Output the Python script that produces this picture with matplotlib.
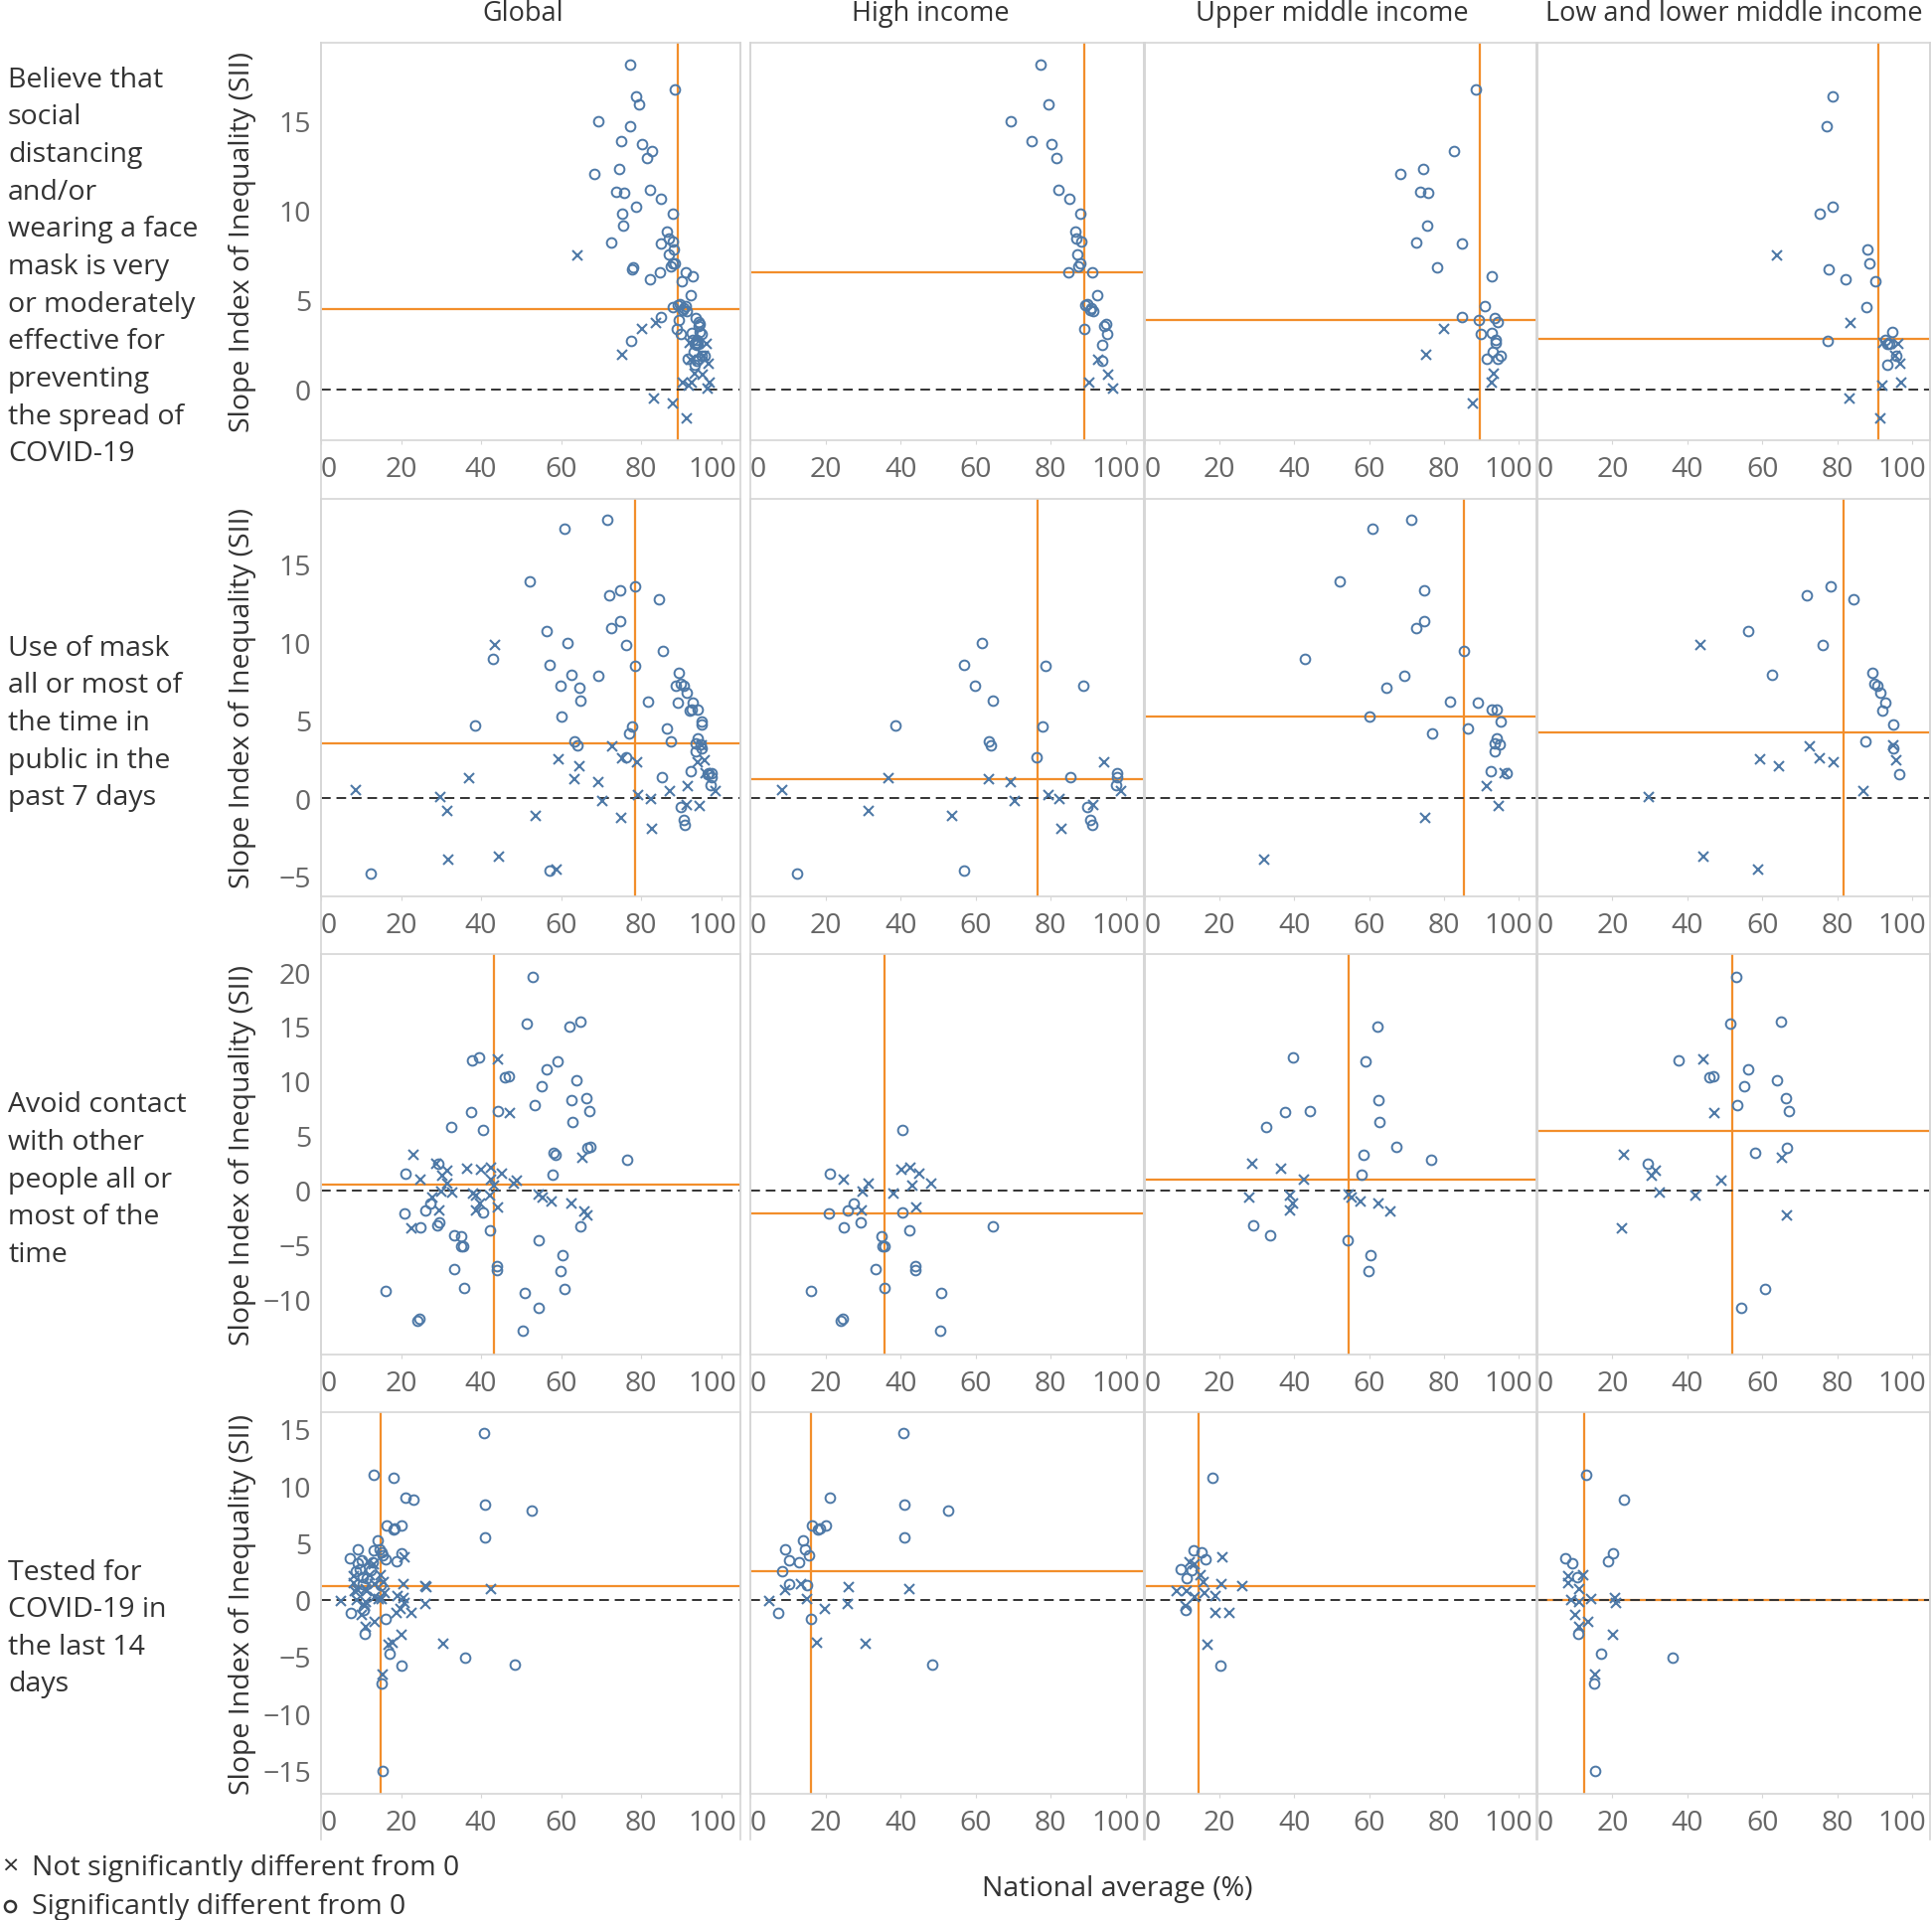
import matplotlib
matplotlib.use("Agg")
import matplotlib.pyplot as plt
import matplotlib.transforms as mtransforms
from matplotlib.lines import Line2D

plt.rcParams['font.family'] = ['Open Sans', 'DejaVu Sans']

col_labels = ["Global", "High income", "Upper middle income", "Low and lower middle income"]
row_labels = [
    "Believe that\nsocial\ndistancing\nand/or\nwearing a face\nmask is very\nor moderately\neffective for\npreventing\nthe spread of\nCOVID-19",
    "Use of mask\nall or most of\nthe time in\npublic in the\npast 7 days",
    "Avoid contact\nwith other\npeople all or\nmost of the\ntime",
    "Tested for\nCOVID-19 in\nthe last 14\ndays",
]

# (national average %, SII, significant 1/0)
social_high = [(77.2, 18.13, 1), (79.4, 15.9, 1), (69.3, 14.93, 1), (75.0, 13.83, 1), (80.3, 13.7, 1),
               (81.4, 12.88, 1), (82.1, 11.13, 1), (84.9, 10.61, 1), (87.8, 9.80, 1), (86.5, 8.78, 1),
               (86.8, 8.39, 1), (88.0, 8.26, 1), (87.0, 7.54, 1), (87.8, 7.04, 1), (87.4, 6.84, 1),
               (84.6, 6.51, 1), (91.1, 6.51, 1), (92.3, 5.25, 1), (89.1, 4.71, 1), (89.6, 4.77, 1),
               (90.5, 4.44, 1), (91.4, 4.34, 1), (90.7, 4.53, 1), (94.3, 3.51, 1), (94.7, 3.62, 1),
               (95.1, 3.11, 1), (89.0, 3.35, 1), (93.8, 2.46, 1), (93.8, 1.59, 1),
               (92.5, 1.66, 0), (95.3, 0.81, 0), (90.3, 0.37, 0), (96.6, 0.06, 0)]
social_umi = [(88.5, 16.73, 1), (82.7, 13.31, 1), (74.5, 12.29, 1), (68.3, 12.03, 1), (73.8, 11.0, 1),
              (75.7, 10.94, 1), (75.6, 9.15, 1), (72.6, 8.19, 1), (84.9, 8.11, 1), (78.1, 6.78, 1),
              (92.8, 6.32, 1), (91.1, 4.66, 1), (84.9, 4.01, 1), (89.5, 3.88, 1), (93.6, 3.97, 1),
              (94.4, 3.75, 1), (90.0, 3.11, 1), (92.7, 3.14, 1), (93.8, 2.77, 1), (93.8, 2.59, 1),
              (93.1, 2.09, 1), (95.1, 1.89, 1), (91.6, 1.70, 1), (94.3, 1.72, 1),
              (80.1, 3.35, 0), (75.3, 1.90, 0), (93.4, 0.85, 0), (92.7, 0.37, 0), (87.8, -0.81, 0)]
social_lmi = [(78.7, 16.34, 1), (77.2, 14.66, 1), (75.3, 9.80, 1), (78.7, 10.17, 1), (88.2, 7.80, 1),
              (88.5, 7.02, 1), (77.7, 6.71, 1), (82.3, 6.14, 1), (90.2, 6.01, 1), (87.8, 4.58, 1),
              (94.6, 3.18, 1), (77.4, 2.68, 1), (92.9, 2.74, 1), (94.0, 2.55, 1), (93.3, 2.51, 1),
              (95.9, 1.85, 1), (93.3, 1.39, 1),
              (64.0, 7.49, 0), (83.6, 3.70, 0), (92.2, 2.59, 0), (96.4, 2.55, 0), (95.5, 1.85, 0),
              (96.8, 1.44, 0), (97.0, 0.37, 0), (92.0, 0.18, 0), (83.2, -0.52, 0), (91.5, -1.63, 0)]

mask_high = [(61.6, 9.95, 1), (57.0, 8.54, 1), (78.5, 8.48, 1), (59.8, 7.21, 1), (88.6, 7.21, 1),
             (64.7, 6.25, 1), (38.6, 4.63, 1), (77.8, 4.57, 1), (63.4, 3.61, 1), (64.1, 3.40, 1),
             (76.3, 2.64, 1), (85.2, 1.32, 1), (97.6, 1.59, 1), (97.6, 1.34, 1), (97.4, 0.81, 1),
             (89.8, -0.60, 1), (90.6, -1.38, 1), (91.0, -1.70, 1), (12.5, -4.87, 1), (57.0, -4.65, 1),
             (8.6, 0.51, 0), (36.9, 1.28, 0), (63.4, 1.19, 0), (69.3, 1.02, 0), (94.1, 2.30, 0),
             (98.7, 0.45, 0), (79.3, 0.17, 0), (82.4, -0.09, 0), (70.3, -0.17, 0), (91.3, -0.47, 0),
             (31.6, -0.81, 0), (53.6, -1.17, 0), (82.8, -2.00, 0)]
mask_umi = [(71.4, 17.85, 1), (60.9, 17.26, 1), (52.1, 13.92, 1), (74.8, 13.33, 1), (74.8, 11.35, 1),
            (72.6, 10.90, 1), (85.4, 9.41, 1), (42.9, 8.91, 1), (69.3, 7.86, 1), (64.6, 7.08, 1),
            (81.6, 6.18, 1), (89.1, 6.12, 1), (92.7, 5.67, 1), (94.1, 5.67, 1), (95.2, 4.93, 1),
            (60.0, 5.23, 1), (77.0, 4.12, 1), (86.5, 4.48, 1), (94.1, 3.83, 1), (93.7, 3.53, 1),
            (94.9, 3.44, 1), (93.7, 3.00, 1), (92.5, 1.70, 1), (96.9, 1.59, 1),
            (96.2, 1.59, 0), (91.6, 0.79, 0), (94.6, -0.51, 0), (75.0, -1.25, 0), (31.9, -3.93, 0)]
mask_lmi = [(78.4, 13.58, 1), (71.9, 12.99, 1), (84.5, 12.75, 1), (56.3, 10.69, 1), (76.2, 9.80, 1),
            (62.7, 7.89, 1), (89.3, 8.01, 1), (89.9, 7.33, 1), (90.7, 7.18, 1), (91.5, 6.76, 1),
            (92.8, 6.12, 1), (92.1, 5.59, 1), (95.1, 4.72, 1), (87.5, 3.61, 1), (95.1, 3.19, 1),
            (96.5, 1.55, 1),
            (43.4, 9.80, 0), (72.8, 3.29, 0), (75.3, 2.57, 0), (59.4, 2.51, 0), (79.0, 2.27, 0),
            (64.6, 2.04, 0), (95.1, 3.40, 0), (95.8, 2.44, 0), (87.1, 0.45, 0), (29.7, 0.09, 0),
            (44.4, -3.76, 0), (58.8, -4.57, 0)]

contact_high = [(40.4, 5.55, 1), (21.1, 1.55, 1), (20.8, -2.12, 1), (26.0, -1.88, 1), (27.4, -1.24, 1),
                (40.4, -2.03, 1), (24.8, -3.37, 1), (29.5, -2.94, 1), (42.3, -3.70, 1), (64.7, -3.28, 1),
                (35.0, -4.25, 1), (35.1, -5.16, 1), (35.6, -5.10, 1), (33.4, -7.19, 1), (43.9, -6.98, 1),
                (43.9, -7.28, 1), (35.8, -8.98, 1), (50.8, -9.38, 1), (16.2, -9.26, 1), (24.5, -11.78, 1),
                (24.0, -11.99, 1), (50.5, -12.90, 1),
                (24.9, 0.97, 0), (31.5, 0.58, 0), (30.0, -0.09, 0), (40.1, 1.85, 0), (42.5, 2.03, 0),
                (45.1, 1.49, 0), (43.1, 0.46, 0), (48.2, 0.64, 0), (38.0, -0.27, 0), (44.1, -1.55, 0),
                (29.6, -1.82, 0)]
contact_umi = [(62.2, 14.96, 1), (39.5, 12.20, 1), (59.1, 11.78, 1), (62.5, 8.29, 1), (62.8, 6.28, 1),
               (37.4, 7.13, 1), (44.1, 7.22, 1), (32.5, 5.77, 1), (67.4, 3.98, 1), (58.5, 3.25, 1),
               (76.6, 2.82, 1), (57.9, 1.46, 1), (29.1, -3.19, 1), (33.4, -4.13, 1), (54.3, -4.58, 1),
               (60.4, -5.92, 1), (59.8, -7.37, 1),
               (28.8, 2.40, 0), (36.5, 1.97, 0), (42.5, 0.94, 0), (27.8, -0.64, 0), (38.8, -0.46, 0),
               (39.7, -1.21, 0), (38.8, -1.82, 0), (54.5, -0.36, 0), (55.4, -0.70, 0), (57.6, -1.06, 0),
               (62.5, -1.18, 0), (65.8, -1.91, 0)]
contact_lmi = [(53.0, 19.58, 1), (51.5, 15.27, 1), (64.9, 15.45, 1), (37.7, 11.90, 1), (56.3, 11.05, 1),
               (46.0, 10.32, 1), (46.9, 10.41, 1), (63.9, 10.08, 1), (55.1, 9.56, 1), (66.2, 8.41, 1),
               (67.1, 7.22, 1), (53.3, 7.77, 1), (58.1, 3.46, 1), (66.5, 3.88, 1), (29.4, 2.40, 1),
               (60.8, -9.07, 1), (54.5, -10.77, 1),
               (44.3, 11.99, 0), (47.1, 7.04, 0), (23.1, 3.28, 0), (31.5, 1.82, 0), (30.4, 1.30, 0),
               (32.7, -0.24, 0), (49.0, 0.85, 0), (42.1, -0.52, 0), (65.4, 3.00, 0), (66.5, -2.34, 0),
               (22.5, -3.49, 0)]

tested_high = [(40.7, 14.61, 1), (21.1, 8.96, 1), (41.0, 8.35, 1), (52.7, 7.86, 1), (16.3, 6.49, 1),
               (18.1, 6.14, 1), (18.5, 6.26, 1), (20.1, 6.55, 1), (41.0, 5.44, 1), (14.1, 5.21, 1),
               (9.2, 4.42, 1), (14.6, 4.39, 1), (15.5, 3.87, 1), (10.2, 3.49, 1), (13.0, 3.29, 1),
               (8.6, 2.50, 1), (10.4, 1.40, 1), (15.0, 1.31, 1), (7.4, -1.13, 1), (16.2, -1.66, 1),
               (48.4, -5.67, 1),
               (9.2, 0.87, 0), (13.4, 1.40, 0), (26.3, 1.08, 0), (42.4, 0.96, 0), (4.9, -0.12, 0),
               (15.2, 0.09, 0), (26.0, -0.35, 0), (19.8, -0.81, 0), (17.8, -3.78, 0), (30.6, -3.84, 0)]
tested_umi = [(18.1, 10.68, 1), (13.1, 4.31, 1), (15.2, 4.13, 1), (16.2, 3.58, 1), (9.7, 2.71, 1),
              (12.4, 2.62, 1), (11.3, 1.89, 1), (10.8, -0.93, 1), (20.2, -5.79, 1),
              (20.8, 3.70, 0), (11.9, 3.29, 0), (13.2, 3.14, 0), (14.8, 2.12, 0), (15.7, 1.54, 0),
              (20.5, 1.34, 0), (26.1, 1.16, 0), (8.4, 0.73, 0), (11.3, 0.76, 0), (15.9, 0.58, 0),
              (13.4, 0.23, 0), (19.0, 0.29, 0), (11.0, -0.58, 0), (18.9, -1.16, 0), (22.6, -1.16, 0),
              (16.8, -3.99, 0)]
tested_lmi = [(13.1, 10.97, 1), (23.1, 8.76, 1), (20.1, 4.10, 1), (18.9, 3.40, 1), (7.3, 3.61, 1),
              (9.2, 3.20, 1), (10.5, 1.98, 1), (10.9, -3.00, 1), (17.1, -4.77, 1), (36.0, -5.06, 1),
              (15.2, -7.33, 1), (15.5, -15.07, 1),
              (8.1, 2.07, 0), (8.1, 1.45, 0), (12.1, 2.12, 0), (11.2, 0.96, 0), (8.9, 0.0, 0),
              (11.2, -0.20, 0), (14.3, 0.03, 0), (20.7, 0.15, 0), (20.9, -0.29, 0), (10.1, -1.37, 0),
              (13.4, -1.98, 0), (11.2, -2.39, 0), (20.1, -3.08, 0), (15.4, -6.60, 0)]

# reference lines (averages) per row: Global, High, UMI, LMI
ref_x = [[89.2, 89.0, 89.6, 90.9], [78.4, 76.4, 85.4, 81.8], [43.2, 35.6, 54.5, 52.1], [14.8, 16.2, 14.4, 12.5]]
ref_y = [[4.47, 6.51, 3.88, 2.79], [3.48, 1.19, 5.23, 4.21], [0.56, -2.12, 0.94, 5.43], [1.19, 2.50, 1.16, 0.0]]

y_limits = [(-2.85, 19.33), (-6.31, 19.19), (-15.05, 21.64), (-17.05, 16.47)]
y_ticks = [[0, 5, 10, 15], [-5, 0, 5, 10, 15], [-10, -5, 0, 5, 10, 15, 20], [-15, -10, -5, 0, 5, 10, 15]]
x_ticks = [0, 20, 40, 60, 80, 100]

rows = [[social_high, social_umi, social_lmi],
        [mask_high, mask_umi, mask_lmi],
        [contact_high, contact_umi, contact_lmi],
        [tested_high, tested_umi, tested_lmi]]

W, H = 1944, 1933
fig = plt.figure(figsize=(W / 100, H / 100), dpi=100)

col_px = [(323, 745), (755, 1151), (1152, 1546), (1547, 1942)]
row_px = [(44, 444), (503, 903), (961, 1364), (1422, 1806)]

blue = '#4e79a7'
orange = '#f28e2b'
border = '#d6d6d6'
tick_col = '#666666'
text_col = '#333333'
fs = 20.5


def px_rect(l, r, t, b):
    return [l / W, 1 - b / H, (r - l) / W, (b - t) / H]


for i, groups in enumerate(rows):
    panels = [groups[0] + groups[1] + groups[2]] + groups
    t, b = row_px[i]
    for j, pts in enumerate(panels):
        l, r = col_px[j]
        ax = fig.add_axes(px_rect(l, r, t, b))
        ax.set_xlim(0, 104.8)
        ax.set_ylim(*y_limits[i])
        ax.axvline(ref_x[i][j], color=orange, lw=1.6, zorder=1)
        ax.axhline(ref_y[i][j], color=orange, lw=1.6, zorder=1)
        ax.axhline(0, color='#333333', lw=1.4, ls=(0, (5, 3)), zorder=1.5)
        sx = [p[0] for p in pts if p[2] == 1]
        sy = [p[1] for p in pts if p[2] == 1]
        nx = [p[0] for p in pts if p[2] == 0]
        ny = [p[1] for p in pts if p[2] == 0]
        ax.plot(sx, sy, 'o', ls='none', mfc='none', mec=blue, ms=7, mew=1.4, zorder=2)
        ax.plot(nx, ny, 'x', ls='none', color=blue, ms=7, mew=1.5, zorder=2)
        for s in ax.spines.values():
            s.set_color(border)
            s.set_linewidth(1.2)
        ax.set_xticks(x_ticks)
        ax.tick_params(axis='x', length=3, color=border, labelcolor=tick_col, labelsize=fs, pad=8)
        labs = ax.get_xticklabels()
        labs[0].set_horizontalalignment('left')
        # keep "100" inside the panel, flush with its right edge
        gap = (r - l) * (1 - 100 / 104.8) - 4
        labs[-1].set_horizontalalignment('right')
        labs[-1].set_transform(labs[-1].get_transform() +
                               mtransforms.ScaledTranslation(gap / 100, 0, fig.dpi_scale_trans))
        ax.set_yticks(y_ticks[i])
        if j == 0:
            ax.tick_params(axis='y', length=0, labelcolor=tick_col, labelsize=fs, pad=7)
            ax.set_ylabel("Slope Index of Inequality (SII)", fontsize=fs, color=text_col)
            ax.yaxis.set_label_coords((258 - l) / (r - l), 0.5)
        else:
            ax.tick_params(axis='y', length=0, labelleft=False)

    # row label, centred on panel + tick band
    fig.text(8 / W, 1 - ((t + b + 50) / 2) / H, row_labels[i], ha='left', va='center',
             fontsize=fs, color=text_col, linespacing=1.46)

# column dividers through the tick bands
for l, r in col_px:
    for xx in (l, r):
        fig.add_artist(Line2D([xx / W, xx / W], [1 - 44 / H, 1 - 1852 / H], color=border, lw=1.2))

header_x = [526, 936, 1340, 1745]
for hx, lab in zip(header_x, col_labels):
    fig.text(hx / W, 1 - 14 / H, lab, ha='center', va='center', fontsize=19.5, color=text_col)

# legend
fig.text(10 / W, 1 - 1880 / H, "\u00d7", ha='center', va='center', fontsize=fs, color=text_col)
fig.text(32 / W, 1 - 1880 / H, "Not significantly different from 0", ha='left', va='center',
         fontsize=fs, color=text_col)
fig.add_artist(Line2D([10 / W], [1 - 1919 / H], marker='o', mfc='none', mec=text_col, ms=8, mew=1.8))
fig.text(32 / W, 1 - 1919 / H, "Significantly different from 0", ha='left', va='center',
         fontsize=fs, color=text_col)

fig.text(1124 / W, 1 - 1901 / H, "National average (%)", ha='center', va='center', fontsize=fs, color=text_col)

fig.savefig("out.png", dpi=100)
